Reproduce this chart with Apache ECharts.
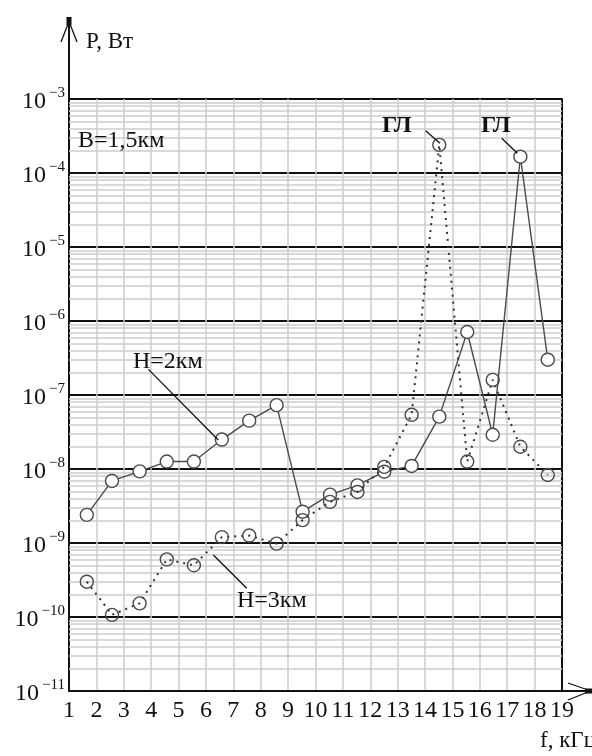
<!DOCTYPE html>
<html>
<head>
<meta charset="utf-8">
<script src="https://cdn.jsdelivr.net/npm/echarts@6/dist/echarts.min.js"></script>
<style>
html,body{margin:0;padding:0;background:#fff;}
#chart{width:592px;height:756px;}
</style>
</head>
<body>
<div id="chart"></div>
<script>
// Frequencies, kHz (positions of the measured points)
const freq = [1.65, 2.57, 3.58, 4.57, 5.56, 6.58, 7.58, 8.58, 9.53, 10.53, 11.53, 12.51, 13.51, 14.52, 15.54, 16.47, 17.48, 18.48];
// H = 2 km (solid line), P in W
const powerH2 = [2.4e-9, 6.9e-9, 9.3e-9, 1.26e-8, 1.26e-8, 2.5e-8, 4.5e-8, 7.3e-8, 2.65e-9, 4.5e-9, 6.0e-9, 9.2e-9, 1.1e-8, 5.1e-8, 7.1e-7, 2.9e-8, 1.66e-4, 3.0e-7];
// H = 3 km (dotted line), P in W
const powerH3 = [3.0e-10, 1.07e-10, 1.53e-10, 6.0e-10, 5.0e-10, 1.2e-9, 1.26e-9, 9.8e-10, 2.04e-9, 3.6e-9, 4.9e-9, 1.07e-8, 5.4e-8, 2.4e-4, 1.26e-8, 1.6e-7, 2.0e-8, 8.3e-9];
// axis tick labels
const xTicks = [1,2,3,4,5,6,7,8,9,10,11,12,13,14,15,16,17,18,19];
const yDecades = [-11,-10,-9,-8,-7,-6,-5,-4,-3];

const FONT = '"Liberation Serif", "DejaVu Serif", serif';
const INK = '#111';
const GRID = '#cdcdcd';
const LINE = '#4a4a4a';

const xMin = xTicks[0], xMax = xTicks[xTicks.length - 1];

// minor log grid lines 2..9 x 10^k
const minorLines = [];
for (let i = 0; i < yDecades.length - 1; i++) {
  for (let m = 2; m <= 9; m++) {
    const v = m * Math.pow(10, yDecades[i]);
    minorLines.push([{coord: [xMin, v]}, {coord: [xMax, v]}]);
  }
}

const chart = echarts.init(document.getElementById('chart'), null, {renderer: 'canvas'});

const option = {
  animation: false,
  backgroundColor: '#fff',
  grid: {left: 69, right: 30, top: 99, bottom: 65, containLabel: false},
  xAxis: {
    type: 'value', min: xMin, max: xMax, interval: 1,
    axisLine: {lineStyle: {color: INK, width: 2}},
    axisTick: {show: false},
    axisLabel: {fontFamily: FONT, fontSize: 24, color: INK, margin: 8},
    splitLine: {show: true, lineStyle: {color: GRID, width: 1.5}}
  },
  yAxis: [{
    type: 'log', logBase: 10, min: Math.pow(10, yDecades[0]), max: Math.pow(10, yDecades[yDecades.length - 1]),
    splitNumber: 8,
    axisLine: {show: true, lineStyle: {color: INK, width: 2}},
    axisTick: {show: false},
    splitLine: {show: true, lineStyle: {color: INK, width: 2}},
    axisLabel: {
      margin: 4,
      formatter: function (v) {
        const e = Math.round(Math.log10(v));
        return '{b|10}{s|\u2212' + Math.abs(e) + '}';
      },
      rich: {
        b: {fontFamily: FONT, fontSize: 24, color: INK, padding: [6, 0, 0, 0]},
        s: {fontFamily: FONT, fontSize: 15, color: INK, verticalAlign: 'top', padding: [2, 0, 0, 3]}
      }
    }
  }, {
    type: 'log', logBase: 10, min: Math.pow(10, yDecades[0]), max: Math.pow(10, yDecades[yDecades.length - 1]),
    position: 'right', splitNumber: 8,
    axisLine: {show: true, lineStyle: {color: INK, width: 2}},
    axisTick: {show: false}, axisLabel: {show: false}, splitLine: {show: false}
  }],
  series: [
    {
      type: 'line', data: [], z: 1, silent: true,
      markLine: {
        silent: true, symbol: ['none', 'none'], label: {show: false}, z: 1,
        lineStyle: {color: GRID, width: 1.5, type: 'solid'},
        emphasis: {disabled: true},
        data: minorLines
      }
    },
    {
      name: 'H=2км', type: 'line', z: 3,
      data: freq.map((f, i) => [f, powerH2[i]]),
      symbol: 'circle', symbolSize: 13,
      itemStyle: {color: '#fff', borderColor: LINE, borderWidth: 1.4},
      lineStyle: {color: LINE, width: 1.4}
    },
    {
      name: 'H=3км', type: 'line', z: 4,
      data: freq.map((f, i) => [f, powerH3[i]]),
      symbol: 'circle', symbolSize: 13,
      itemStyle: {color: 'rgba(0,0,0,0)', borderColor: LINE, borderWidth: 1.4},
      lineStyle: {color: '#333', width: 2, type: [2, 5]}
    },
    {
      type: 'line', data: [], z: 5, silent: true,
      markLine: {
        silent: true, symbol: ['none', 'none'], label: {show: false},
        lineStyle: {color: INK, width: 1.3, type: 'solid'},
        emphasis: {disabled: true},
        data: [
          [{coord: [3.9, 2.22e-7]}, {coord: [6.45, 2.47e-8]}],
          [{coord: [6.27, 6.9e-10]}, {coord: [7.49, 2.44e-10]}],
          [{coord: [14.02, 3.73e-4]}, {coord: [14.545, 2.52e-4]}],
          [{coord: [16.8, 2.94e-4]}, {coord: [17.37, 1.85e-4]}]
        ]
      }
    }
  ],
  graphic: [
    // y axis extension + arrow
    {type: 'line', shape: {x1: 69, y1: 100, x2: 69, y2: 17}, style: {stroke: INK, lineWidth: 2}, z: 10},
    {type: 'line', shape: {x1: 68, y1: 24, x2: 61, y2: 42}, style: {stroke: INK, lineWidth: 1.3}, z: 10},
    {type: 'line', shape: {x1: 70, y1: 24, x2: 77, y2: 42}, style: {stroke: INK, lineWidth: 1.3}, z: 10},
    {type: 'rect', shape: {x: 66.5, y: 17, width: 5, height: 8}, style: {fill: INK}, z: 10},
    // x axis extension + arrow
    {type: 'line', shape: {x1: 561, y1: 691, x2: 590, y2: 691}, style: {stroke: INK, lineWidth: 2}, z: 10},
    {type: 'line', shape: {x1: 588, y1: 690, x2: 568, y2: 683}, style: {stroke: INK, lineWidth: 1.3}, z: 10},
    {type: 'line', shape: {x1: 588, y1: 692, x2: 568, y2: 700}, style: {stroke: INK, lineWidth: 1.3}, z: 10},
    {type: 'rect', shape: {x: 585, y: 688.5, width: 7, height: 5}, style: {fill: INK}, z: 10},
    // texts
    {type: 'text', left: 86, top: 30, style: {text: 'P, Вт', font: '23px ' + FONT, fill: INK}, z: 10},
    {type: 'text', left: 540, top: 729, style: {text: 'f, кГц', font: '23px ' + FONT, fill: INK}, z: 10},
    {type: 'text', left: 78, top: 129, style: {text: 'B=1,5км', font: '24px ' + FONT, fill: INK}, z: 10},
    {type: 'text', left: 133, top: 350, style: {text: 'H=2км', font: '24px ' + FONT, fill: INK}, z: 10},
    {type: 'text', left: 237, top: 589, style: {text: 'H=3км', font: '24px ' + FONT, fill: INK}, z: 10},
    {type: 'text', left: 382, top: 114, style: {text: 'ГЛ', font: 'bold 24px ' + FONT, fill: INK}, z: 10},
    {type: 'text', left: 481, top: 114, style: {text: 'ГЛ', font: 'bold 24px ' + FONT, fill: INK}, z: 10}
  ]
};
chart.setOption(option);
</script>
</body>
</html>
